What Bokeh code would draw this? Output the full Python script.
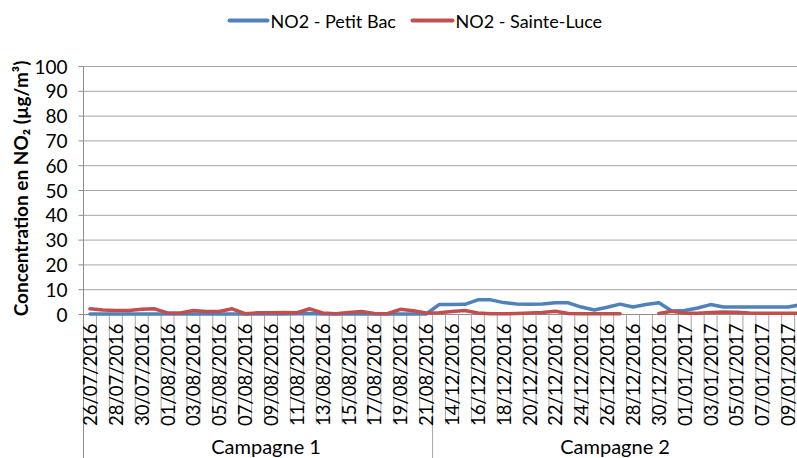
import numpy as np
import pandas as pd
from bokeh.plotting import figure
from bokeh.models import Range1d, ColumnDataSource
from bokeh.core.properties import value
from bokeh.embed import file_html
from bokeh.resources import INLINE

# ---------------- data ----------------
campaign_names = ["Campagne 1", "Campagne 2"]
campaign1_dates = pd.date_range("2016-07-26", "2016-08-21").strftime("%d/%m/%Y").tolist()
campaign2_dates = pd.date_range("2016-12-13", "2017-01-10").strftime("%d/%m/%Y").tolist()
dates = campaign1_dates + campaign2_dates

series_names = ["NO2 - Petit Bac", "NO2 - Sainte-Luce"]
series_colors = ["#4F81BD", "#C0504D"]

petit_bac = [
    0.2, 0.2, 0.2, 0.2, 0.2, 0.2, 0.2, 0.2, 0.2, 0.2, 0.2, 0.2, 0.2, 0.2,
    0.2, 0.2, 0.3, 0.4, 0.2, 0.2, 0.2, 0.2, 0.2, 0.2, 0.2, 0.2, 0.2,
    4.0, 4.0, 4.1, 5.9, 5.9, 4.8, 4.2, 4.1, 4.2, 4.7, 4.7, 3.0, 1.8, 2.9,
    4.2, 3.0, 4.0, 4.7, 1.4, 1.6, 2.6, 4.0, 3.0, 3.0, 3.0, 3.0, 3.0, 3.0, 4.0,
]
sainte_luce = [
    2.3, 1.8, 1.6, 1.6, 2.1, 2.3, 0.6, 0.6, 1.6, 1.2, 1.2, 2.3, 0.3, 0.7,
    0.7, 0.8, 0.7, 2.3, 0.6, 0.3, 0.8, 1.2, 0.4, 0.3, 2.1, 1.5, 0.6,
    0.7, 1.2, 1.6, 0.6, 0.3, 0.3, 0.4, 0.6, 0.8, 1.3, 0.4, 0.3, 0.3, 0.3,
    0.3, np.nan, np.nan, 0.4, 1.3, 0.5, 0.5, 0.8, 1.0, 0.9, 0.6, 0.5, 0.5, 0.5, 0.5,
]
y_ticks = [0, 10, 20, 30, 40, 50, 60, 70, 80, 90, 100]
y_title = "Concentration en NO\u2082 (\u00b5g/m\u00b3)"

# ---------------- geometry ----------------
W, H = 797, 458
LEFT = 83.0        # plot-area left edge (px)
CAT_W = 12.93      # px per category
ZERO_PX = 144.0    # px from bottom to value 0
UNIT_PX = 2.48     # px per unit of concentration

n_cat = len(dates)
n_c1 = len(campaign1_dates)
x_start = -LEFT / CAT_W
x_end = (W - LEFT) / CAT_W
y_bottom = -ZERO_PX / UNIT_PX
y_top = (H - ZERO_PX) / UNIT_PX

def dx(px):
    return px / CAT_W

def dy(px):
    return px / UNIT_PX

def fx(px):   # figure px from left -> data x
    return (px - LEFT) / CAT_W

def fy(px):   # figure px from top -> data y
    return (H - px - ZERO_PX) / UNIT_PX

p = figure(width=W, height=H, x_range=Range1d(x_start, x_end), y_range=Range1d(y_bottom, y_top),
           output_backend="svg", toolbar_location=None, x_axis_location=None, y_axis_location=None,
           min_border=0, outline_line_color=None, background_fill_color="white",
           border_fill_color="white")
p.grid.visible = False

FONT = value("Lato")
GRID = "#a6a6a6"
AXIS = "#8c8c8c"

# gridlines
gy = [t for t in y_ticks if t != 0]
p.segment(x0=[0] * len(gy), y0=gy, x1=[x_end] * len(gy), y1=gy, line_color=GRID, line_width=1)

# y axis line, ticks, labels
p.segment(x0=[0], y0=[y_bottom], x1=[0], y1=[max(y_ticks)], line_color=AXIS, line_width=1)
p.segment(x0=[dx(-5)] * len(y_ticks), y0=y_ticks, x1=[0] * len(y_ticks), y1=y_ticks,
          line_color=AXIS, line_width=1)
p.text(x=[0] * len(y_ticks), y=y_ticks, text=[str(t) for t in y_ticks], x_offset=-16,
       text_align="right", text_baseline="middle", text_font=FONT, text_font_size="19px",
       text_color="black")

# x axis line and category boundaries
p.segment(x0=[0], y0=[0], x1=[x_end], y1=[0], line_color=AXIS, line_width=1)
bx = [i for i in range(1, n_cat + 1) if i != n_c1]
p.segment(x0=bx, y0=[0] * len(bx), x1=bx, y1=[dy(-109)] * len(bx), line_color=GRID, line_width=1)
p.segment(x0=[n_c1], y0=[0], x1=[n_c1], y1=[y_bottom], line_color=GRID, line_width=1)

# date labels (every other category)
lab_idx = list(range(0, n_cat, 2))
p.text(x=[i + 0.5 for i in lab_idx], y=[0] * len(lab_idx), text=[dates[i] for i in lab_idx],
       angle=np.pi / 2, text_align="right", text_baseline="middle", y_offset=9,
       text_font=FONT, text_font_size="18.5px", text_color="black")

# campaign labels
camp_x = [n_c1 / 2 + dx(8), (n_c1 + x_end) / 2]
p.text(x=camp_x, y=[0, 0], text=campaign_names, y_offset=131, text_align="center",
       text_baseline="middle", text_font=FONT, text_font_size="20px", text_color="black")

# y title
p.text(x=[fx(20)], y=[fy(188)], text=[y_title], angle=np.pi / 2, text_align="center",
       text_baseline="middle", text_font=FONT, text_font_size="19px", text_font_style="bold",
       text_color="black")

# data lines
xc = [i + 0.5 for i in range(n_cat)]
src = ColumnDataSource(dict(x=xc, pb=np.array(petit_bac, dtype=float),
                            sl=np.array(sainte_luce, dtype=float)))
p.line("x", "pb", source=src, line_color=series_colors[0], line_width=3.5,
       line_join="round", line_cap="round")
p.line("x", "sl", source=src, line_color=series_colors[1], line_width=3.5,
       line_join="round", line_cap="round")

# legend (drawn with glyphs)
leg_y = fy(20)
leg_lines = [(229, 267), (412, 452)]
for (a, b), col, name in zip(leg_lines, series_colors, series_names):
    p.line(x=[fx(a), fx(b)], y=[leg_y, leg_y], line_color=col, line_width=4, line_cap="round")
    p.text(x=[fx(b + 3)], y=[leg_y], text=[name], text_align="left", text_baseline="middle",
           text_font=FONT, text_font_size="18px", text_color="black")

open("out.html", "w").write(file_html(p, INLINE))
